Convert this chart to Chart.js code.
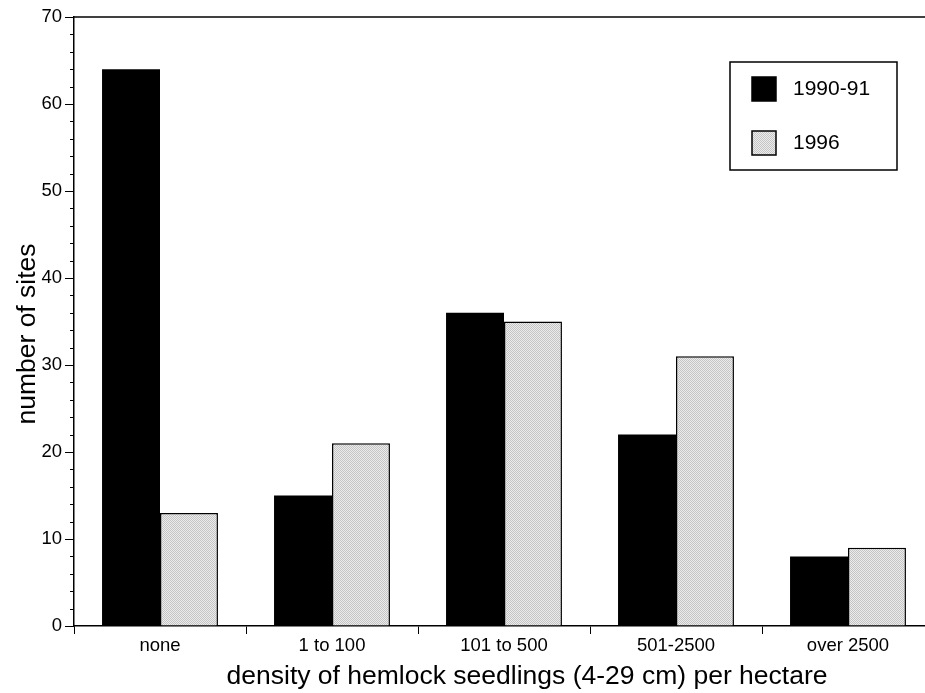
<!DOCTYPE html>
<html>
<head>
<meta charset="utf-8">
<script src="https://cdn.jsdelivr.net/npm/chart.js@4"></script>
<style>
  html, body { margin: 0; padding: 0; background: #fff; overflow: hidden; }
  #wrap { width: 960px; height: 693px; }
</style>
</head>
<body>
<div id="wrap"><canvas id="c" width="960" height="693"></canvas></div>
<script>
const categories = ["none", "1 to 100", "101 to 500", "501-2500", "over 2500"];
const series1Label = "1990-91";
const series1 = [64, 15, 36, 22, 8];
const series2Label = "1996";
const series2 = [13, 21, 35, 31, 9];
const yTickLabels = [0, 10, 20, 30, 40, 50, 60, 70];
const xTitle = "density of hemlock seedlings (4-29 cm) per hectare";
const yTitle = "number of sites";

const FONT = "'Liberation Sans', Arial, Helvetica, sans-serif";

// light gray stipple pattern
function makePattern() {
  const p = document.createElement('canvas');
  p.width = 2; p.height = 2;
  const g = p.getContext('2d');
  g.fillStyle = '#ececec'; g.fillRect(0, 0, 2, 2);
  g.fillStyle = '#c4c4c4'; g.fillRect(0, 0, 1, 1); g.fillRect(1, 1, 1, 1);
  return document.getElementById('c').getContext('2d').createPattern(p, 'repeat');
}
const grayFill = makePattern();

const frame = {
  id: 'frame',
  afterDraw(chart) {
    const { ctx, chartArea: a, scales } = chart;
    const y = scales.y;
    ctx.save();
    // top border line
    ctx.strokeStyle = '#000';
    ctx.lineWidth = 1.5;
    ctx.beginPath();
    ctx.moveTo(a.left, a.top);
    ctx.lineTo(a.right, a.top);
    ctx.stroke();
    // minor ticks
    ctx.lineWidth = 1;
    for (let v = 0; v <= 70; v += 2) {
      if (v % 10 === 0) continue;
      const py = Math.round(y.getPixelForValue(v)) + 0.5;
      ctx.beginPath();
      ctx.moveTo(a.left - 4, py);
      ctx.lineTo(a.left, py);
      ctx.stroke();
    }
    // y axis title
    ctx.save();
    ctx.translate(35, 334);
    ctx.rotate(-Math.PI / 2);
    ctx.fillStyle = '#000';
    ctx.font = "26.5px " + FONT;
    ctx.textAlign = 'center';
    ctx.textBaseline = 'alphabetic';
    ctx.fillText(yTitle, 0, 0);
    ctx.restore();
    // x axis title
    ctx.fillStyle = '#000';
    ctx.font = "26.5px " + FONT;
    ctx.textAlign = 'center';
    ctx.textBaseline = 'middle';
    ctx.fillText(xTitle, 527, 677);
    // legend
    const bx = 730, by = 62, bw = 167, bh = 108;
    ctx.fillStyle = '#fff';
    ctx.fillRect(bx, by, bw, bh);
    ctx.lineWidth = 1.5;
    ctx.strokeStyle = '#000';
    ctx.strokeRect(bx, by, bw, bh);
    const ds = chart.data.datasets;
    const rows = [89, 143];
    ds.forEach((d, i) => {
      const cy = rows[i];
      ctx.fillStyle = d.backgroundColor;
      ctx.fillRect(752, cy - 12, 24, 24);
      ctx.lineWidth = 1.5;
      ctx.strokeStyle = '#000';
      ctx.strokeRect(752, cy - 12, 24, 24);
      ctx.fillStyle = '#000';
      ctx.font = "21px " + FONT;
      ctx.textBaseline = 'middle';
      ctx.textAlign = 'left';
      ctx.fillText(d.label, 793, cy);
    });
    ctx.restore();
  }
};

new Chart(document.getElementById('c'), {
  type: 'bar',
  data: {
    labels: categories,
    datasets: [
      { label: series1Label, data: series1, backgroundColor: '#000', borderColor: '#000', borderWidth: 0,
        categoryPercentage: 0.674, barPercentage: 1.0 },
      { label: series2Label, data: series2, backgroundColor: grayFill, borderColor: '#000', borderWidth: 1.5,
        categoryPercentage: 0.674, barPercentage: 1.0 }
    ]
  },
  options: {
    responsive: false,
    animation: false,
    layout: { padding: { left: 0, right: 26, top: 17, bottom: 0 } },
    plugins: { legend: { display: false }, tooltip: { enabled: false } },
    scales: {
      x: {
        grid: { display: true, offset: true, drawOnChartArea: false, drawTicks: true, tickLength: 8, color: '#000', lineWidth: 1 },
        border: { display: true, color: '#000', width: 1.5 },
        ticks: { color: '#000', font: { family: FONT, size: 18.5 }, padding: 1 },
        title: { display: false },
        afterFit(scale) { scale.height = 67; }
      },
      y: {
        min: 0, max: 70,
        afterBuildTicks(scale) { scale.ticks = yTickLabels.map(v => ({ value: v })); },
        grid: { display: true, drawOnChartArea: false, drawTicks: true, tickLength: 9, color: '#000', lineWidth: 1 },
        border: { display: true, color: '#000', width: 1.5 },
        ticks: { color: '#000', font: { family: FONT, size: 18.5 }, padding: 3 },
        title: { display: false },
        afterFit(scale) { scale.width = 74; }
      }
    }
  },
  plugins: [frame]
});
</script>
</body>
</html>
